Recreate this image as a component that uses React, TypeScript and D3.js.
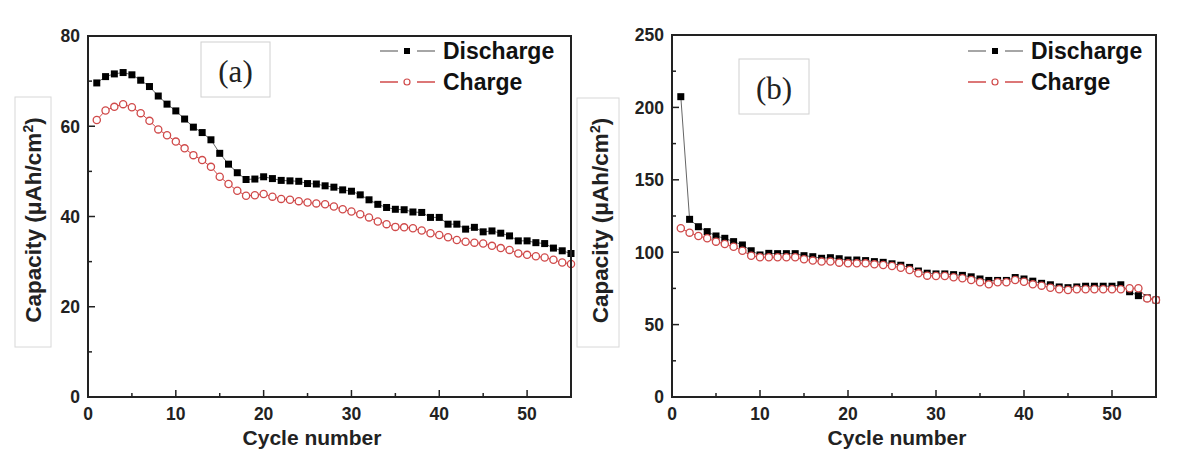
import React from 'react';
import * as d3 from 'd3';

// cycle numbers 1..55
const cycles = d3.range(1, 56);

// panel (a) capacities, µAh/cm²
const dischargeA = [
  69.6, 71.0, 71.6, 71.9, 71.4, 70.2, 68.8, 66.7, 64.9, 63.4,
  61.6, 59.8, 58.6, 57.0, 54.0, 51.6, 49.7, 48.2, 48.3, 48.8,
  48.4, 48.0, 47.9, 47.8, 47.3, 47.2, 46.8, 46.5, 45.9, 45.6,
  44.8, 43.7, 42.7, 42.0, 41.6, 41.5, 41.0, 40.9, 39.8, 39.8,
  38.3, 38.3, 37.2, 37.6, 36.6, 36.8, 36.3, 35.7, 34.6, 34.6,
  34.2, 34.0, 33.0, 32.4, 31.8,
];
const chargeA = [
  61.4, 63.5, 64.3, 64.9, 64.2, 62.9, 61.2, 59.3, 58.0, 56.6,
  55.1, 53.6, 52.5, 51.0, 48.8, 47.2, 45.7, 44.6, 44.7, 45.0,
  44.4, 43.9, 43.7, 43.4, 43.1, 42.9, 42.7, 42.2, 41.6, 41.1,
  40.5, 39.8, 38.9, 38.3, 37.7, 37.6, 37.4, 36.9, 36.3, 35.9,
  35.4, 34.8, 34.4, 34.2, 34.0, 33.5, 33.0, 32.6, 31.8, 31.5,
  31.2, 30.9, 30.4, 29.8, 29.5,
];

// panel (b)
const dischargeB = [
  207.4, 122.7, 117.6, 114.2, 111.2, 109.6, 107.3, 105.0, 101.0, 98.1,
  99.2, 99.0, 99.0, 99.0, 97.6, 96.9, 95.8, 96.2, 95.5, 94.6,
  94.6, 94.2, 93.5, 93.0, 92.0, 91.0, 89.5, 87.0, 85.5, 85.0,
  85.0, 84.5, 84.0, 83.0, 81.5, 80.5, 80.5, 80.5, 82.5, 81.5,
  80.0, 78.5, 77.5, 76.0, 75.5, 76.0, 76.5, 76.5, 76.5, 76.5,
  77.5, 72.7, 70.0, 68.5, 67.0,
];
const chargeB = [
  116.5, 113.5, 111.2, 109.6, 107.3, 105.7, 103.8, 101.0, 97.6, 96.5,
  96.5, 96.5, 96.5, 96.5, 95.1, 94.2, 93.5, 93.5, 92.8, 92.3,
  92.3, 92.3, 91.6, 91.2, 90.5, 89.3, 87.7, 85.4, 83.8, 83.6,
  83.6, 82.7, 82.0, 80.8, 79.2, 77.8, 79.2, 79.2, 80.8, 79.6,
  77.8, 76.9, 75.5, 74.4, 73.9, 74.4, 74.4, 74.4, 74.4, 74.4,
  74.4, 75.1, 75.1, 68.1, 67.0,
];

const xTicks = [0, 10, 20, 30, 40, 50];
const yTicksA = [0, 20, 40, 60, 80];
const yTicksB = [0, 50, 100, 150, 200, 250];

const seriesNames = ['Discharge', 'Charge'];

const SANS = 'Liberation Sans, Arial, sans-serif';
const SERIF = 'Liberation Serif, Times New Roman, serif';
const AXIS = '#222';
const RED = '#d04a4a';

interface PanelProps {
  left: number;
  right: number;
  top: number;
  bottom: number;
  yMax: number;
  yTicks: number[];
  discharge: number[];
  charge: number[];
  tag: string;
  tagBox: { x: number; y: number; w: number; h: number };
  labelBox: { x: number; y: number; w: number; h: number };
  labelX: number;
  titleX: number;
  legendX: number;
}

const Panel: React.FC<PanelProps> = (p) => {
  const x = d3.scaleLinear().domain([0, 55]).range([p.left, p.right]);
  const y = d3.scaleLinear().domain([0, p.yMax]).range([p.bottom, p.top]);

  const xStep = xTicks[1] - xTicks[0];
  const yStep = p.yTicks[1] - p.yTicks[0];
  const xMinor = xTicks.map((t) => t + xStep / 2).filter((t) => t < 55);
  const yMinor = p.yTicks.map((t) => t + yStep / 2).filter((t) => t < p.yMax);

  const line = d3
    .line<number>()
    .x((_, i) => x(cycles[i]))
    .y((d) => y(d));

  const labelCy = (p.labelBox.y + p.labelBox.y + p.labelBox.h) / 2 - 2;

  return (
    <g>
      {/* y label box */}
      <rect x={p.labelBox.x} y={p.labelBox.y} width={p.labelBox.w} height={p.labelBox.h}
        fill="#fff" stroke="#d8d8d8" strokeWidth={1} />
      <text transform={`translate(${p.labelX},${labelCy}) rotate(-90)`} textAnchor="middle"
        fontFamily={SANS} fontWeight="bold" fontSize={22.5} fill={AXIS}>
        Capacity (μAh/cm<tspan dy={-8} fontSize={14}>2</tspan><tspan dy={8}>)</tspan>
      </text>

      {/* tag box */}
      <rect x={p.tagBox.x} y={p.tagBox.y} width={p.tagBox.w} height={p.tagBox.h}
        fill="#fff" stroke="#d0d0d0" strokeWidth={1} />
      <text x={p.tagBox.x + p.tagBox.w / 2} y={p.tagBox.y + p.tagBox.h / 2 + 12}
        textAnchor="middle" fontFamily={SERIF} fontSize={31} fill="#222">{p.tag}</text>

      {/* series */}
      <path d={line(p.discharge) || ''} fill="none" stroke="#666" strokeWidth={1} />
      <path d={line(p.charge) || ''} fill="none" stroke={RED} strokeWidth={1} />
      {p.discharge.map((d, i) => (
        <rect key={'d' + i} x={x(cycles[i]) - 3.5} y={y(d) - 3.5} width={7} height={7} fill="#000" />
      ))}
      {p.charge.map((d, i) => (
        <circle key={'c' + i} cx={x(cycles[i])} cy={y(d)} r={3.6} fill="#fff" stroke={RED} strokeWidth={1.3} />
      ))}

      {/* frame */}
      <rect x={p.left} y={p.top} width={p.right - p.left} height={p.bottom - p.top}
        fill="none" stroke={AXIS} strokeWidth={2} />

      {/* x ticks */}
      {xTicks.map((t) => (
        <g key={'xt' + t}>
          {t > 0 && <line x1={x(t)} x2={x(t)} y1={p.bottom} y2={p.bottom - 7} stroke={AXIS} strokeWidth={1.5} />}
          <text x={x(t)} y={p.bottom + 23} textAnchor="middle" fontFamily={SANS} fontWeight="bold"
            fontSize={17.5} fill={AXIS}>{t}</text>
        </g>
      ))}
      {xMinor.map((t) => (
        <line key={'xm' + t} x1={x(t)} x2={x(t)} y1={p.bottom} y2={p.bottom - 4} stroke={AXIS} strokeWidth={1.5} />
      ))}

      {/* y ticks */}
      {p.yTicks.map((t) => (
        <g key={'yt' + t}>
          {t > 0 && t < p.yMax && <line x1={p.left} x2={p.left + 7} y1={y(t)} y2={y(t)} stroke={AXIS} strokeWidth={1.5} />}
          <text x={p.left - 8} y={y(t)} dy="0.36em" textAnchor="end" fontFamily={SANS} fontWeight="bold"
            fontSize={17.5} fill={AXIS}>{t}</text>
        </g>
      ))}
      {yMinor.map((t) => (
        <line key={'ym' + t} x1={p.left} x2={p.left + 4} y1={y(t)} y2={y(t)} stroke={AXIS} strokeWidth={1.5} />
      ))}

      {/* x title */}
      <text x={p.titleX} y={445} textAnchor="middle" fontFamily={SANS} fontWeight="bold" fontSize={21}
        fill={AXIS}>Cycle number</text>

      {/* legend */}
      {seriesNames.map((name, i) => {
        const ly = 51 + i * 31;
        const col = i === 0 ? '#888' : RED;
        const mx = p.legendX + 27;
        return (
          <g key={name}>
            <line x1={p.legendX} x2={p.legendX + 18} y1={ly} y2={ly} stroke={col} strokeWidth={1.5} />
            <line x1={p.legendX + 37} x2={p.legendX + 55} y1={ly} y2={ly} stroke={col} strokeWidth={1.5} />
            {i === 0 ? (
              <rect x={mx - 3} y={ly - 3} width={6} height={6} fill="#000" />
            ) : (
              <circle cx={mx} cy={ly} r={3} fill="#fff" stroke={RED} strokeWidth={1.2} />
            )}
            <text x={p.legendX + 63} y={ly + 8} fontFamily={SANS} fontWeight="bold" fontSize={23}
              fill="#111">{name}</text>
          </g>
        );
      })}
    </g>
  );
};

const App: React.FC = () => (
  <svg width={1200} height={473} style={{ position: 'absolute', left: 0, top: 0, background: '#fff' }}>
    <rect width={1200} height={473} fill="#fff" />
    <Panel left={88} right={571} top={36} bottom={397} yMax={80} yTicks={yTicksA}
      discharge={dischargeA} charge={chargeA} tag="(a)"
      tagBox={{ x: 201, y: 42, w: 69, h: 55 }} labelBox={{ x: 15, y: 97, w: 36, h: 250 }}
      labelX={41} titleX={312} legendX={380} />
    <Panel left={672} right={1156} top={35} bottom={397} yMax={250} yTicks={yTicksB}
      discharge={dischargeB} charge={chargeB} tag="(b)"
      tagBox={{ x: 739, y: 59, w: 70, h: 55 }} labelBox={{ x: 577, y: 98, w: 42, h: 249 }}
      labelX={608} titleX={897} legendX={968} />
  </svg>
);

export default App;
